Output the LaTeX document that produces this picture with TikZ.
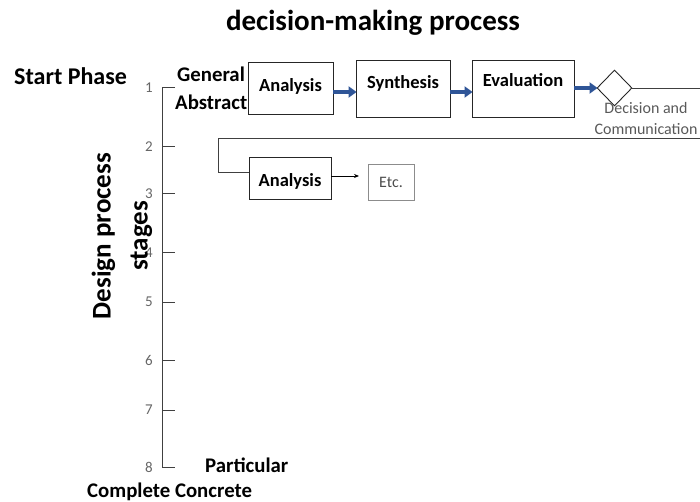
\documentclass[tikz,border=0pt]{standalone}
\usepackage{fontspec}
\setmainfont{Carlito}
\usetikzlibrary{shapes.geometric,arrows.meta}
\definecolor{flowblue}{RGB}{47,85,151}
\begin{document}
\begin{tikzpicture}[x=1pt,y=-1pt,
  lbl/.style={font=\bfseries\fontsize{20.8}{23}\selectfont, inner sep=0pt},
  boxlbl/.style={font=\bfseries\fontsize{18.5}{20}\selectfont},
  ticklbl/.style={font=\fontsize{15}{16}\selectfont, text=black!60, inner sep=0pt},
  stepbox/.style={draw=black!85, line width=0.9pt, inner sep=0pt},
  flow/.style={-{Triangle[length=8pt,width=11pt]}, draw=flowblue, line width=3.2pt, shorten >=-1pt},
  axisline/.style={draw=black!75, line width=1pt},
]
\useasboundingbox (0,0) rectangle (700,502);

% title
\node[font=\bfseries\fontsize{29}{32}\selectfont] (title) at (373,23) {decision-making process};

% stage axis with ticks
\coordinate (top) at (162,88);
\coordinate (bot) at (162,467);
\draw[axisline] (175,88) -- (top) -- (bot) -- (175,467);
\foreach \n/\y in {2/147,3/194,4/253,5/302,6/360,7/410} {
  \draw[axisline] (162,\y) -- (175,\y);
}
\foreach \n/\y in {1/88,2/147,3/194,4/253,5/302,6/360,7/410,8/467} {
  \node[ticklbl, anchor=east] (t\n) at (153,\y) {\n};
}

% axis labels
\node[lbl, anchor=west, font=\bfseries\fontsize{24}{26}\selectfont] (start) at (14,76) {Start Phase};
\node[lbl, anchor=west] (general) at (177,74) {General};
\node[lbl, anchor=west] (abstract) at (175,102) {Abstract};
\node[lbl, anchor=west] (particular) at (205,465) {Particular};
\node[lbl, anchor=west] (concrete) at (87,492) {Complete Concrete};
\node[rotate=90, align=center, font=\bfseries\fontsize{27}{37}\selectfont] (stages) at (122,236) {Design process\\stages};

% first cycle
\node[stepbox, minimum width=85pt, minimum height=52pt] (ana1) at (290.5,88) {};
\node[boxlbl] at (290.5,86) {Analysis};
\node[stepbox, minimum width=94pt, minimum height=57pt] (syn) at (403,88.5) {};
\node[boxlbl] at (403,83) {Synthesis};
\node[stepbox, minimum width=102pt, minimum height=57pt] (eva) at (523,88.5) {};
\node[boxlbl] at (523,80) {Evaluation};
\node[diamond, draw=black!85, line width=0.9pt, minimum width=35pt, minimum height=36pt, inner sep=0pt] (dec) at (614.5,88) {};
\node[font=\fontsize{16}{21}\selectfont, text=black!65, align=center] (declbl) at (646,119) {Decision and\\Communication};

\draw[flow] (ana1.east |- 0,92) -- (syn.west |- 0,92);
\draw[flow] (syn.east |- 0,92) -- (eva.west |- 0,92);
\draw[flow] (eva.east |- dec.west) -- (dec.west);

% loop back to the next stage
\coordinate (r1) at (700,88);
\coordinate (r2) at (700,138);
\coordinate (l1) at (218,138);
\coordinate (l2) at (218,172);
\draw[axisline, line width=0.9pt] (dec.east) -- (r1);
\draw[axisline, line width=0.9pt] (r2) -- (l1) -- (l2) -- (249,172);

% second cycle
\node[stepbox, minimum width=82pt, minimum height=42pt] (ana2) at (290,178) {};
\node[boxlbl] at (290,181) {Analysis};
\node[draw=black!45, line width=0.8pt, minimum width=46pt, minimum height=36pt, inner sep=0pt, font=\fontsize{16}{17}\selectfont, text=black!70] (etc) at (391,182) {Etc.};
\draw[-{Stealth[length=5pt,width=4pt]}, line width=0.8pt] (ana2.east |- 0,176) -- (359,176);
\end{tikzpicture}
\end{document}
